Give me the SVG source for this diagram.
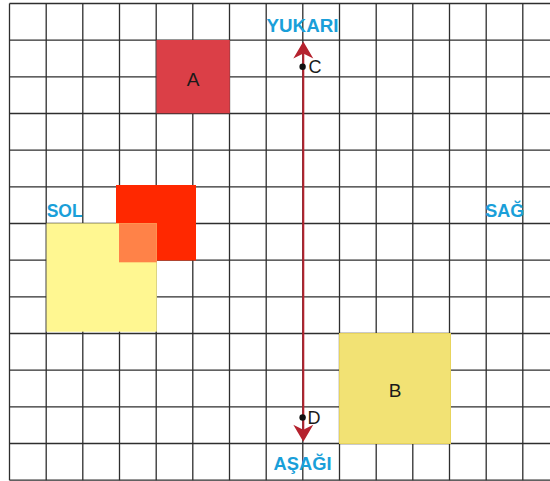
<svg xmlns="http://www.w3.org/2000/svg" width="550" height="481" viewBox="0 0 550 481">
<defs>
<style>
.grid{stroke:#2e2e2e;stroke-width:1.3;fill:none}
.dir{font-family:"Liberation Sans",Arial,sans-serif;font-weight:bold;font-size:19px;fill:#1a9fd9;text-anchor:middle}
.lbl{font-family:"Liberation Sans",Arial,sans-serif;font-size:19px;fill:#1a1a1a;text-anchor:middle}
.pt{font-family:"Liberation Sans",Arial,sans-serif;font-size:18px;fill:#1a1a1a}
.head{fill:#b5222e}
</style>
</defs>
<rect width="550" height="481" fill="#ffffff"/>
<g id="grid" class="grid">
<path d="M9.5 3.5V480.2M46.2 3.5V480.2M82.8 3.5V480.2M119.5 3.5V480.2M156.2 3.5V480.2M192.8 3.5V480.2M229.5 3.5V480.2M266.2 3.5V480.2M302.8 3.5V480.2M339.5 3.5V480.2M376.2 3.5V480.2M412.8 3.5V480.2M449.5 3.5V480.2M486.2 3.5V480.2M522.8 3.5V480.2"/>
<path d="M9.5 3.5H550M9.5 40.2H550M9.5 76.8H550M9.5 113.5H550M9.5 150.2H550M9.5 186.8H550M9.5 223.5H550M9.5 260.2H550M9.5 296.8H550M9.5 333.5H550M9.5 370.2H550M9.5 406.8H550M9.5 443.5H550M9.5 480.2H550"/>
</g>
<g id="A">
<rect x="156.5" y="40" width="73.3" height="73.3" fill="#db3f47"/>
<text class="lbl" x="193" y="86">A</text>
</g>
<g id="red">
<rect x="116" y="185" width="80" height="75.5" fill="#ff2800"/>
</g>
<g id="yellow">
<rect x="46.5" y="223.3" width="110.3" height="108.4" fill="#fff791"/>
</g>
<g id="overlap">
<rect x="119" y="223.3" width="37.8" height="39" fill="#ff8248"/>
</g>
<g id="B">
<rect x="339.5" y="333.5" width="111" height="110" fill="#f2e274" stroke="#e8d45c" stroke-width="1"/>
<text class="lbl" x="395" y="396.5">B</text>
</g>
<g id="connectors">
<line x1="303.3" y1="52" x2="303.3" y2="431" stroke="#b5222e" stroke-width="2"/>
<path class="head" d="M303.3 41.5 L313.3 58.5 L303.3 53.5 L293.3 58.5 Z"/>
<path class="head" d="M303.3 441.7 L313.3 424.7 L303.3 429.7 L293.3 424.7 Z"/>
</g>
<g id="C">
<circle cx="302.6" cy="66.7" r="3.2" fill="#111"/>
<text class="pt" x="308.5" y="73">C</text>
</g>
<g id="D">
<circle cx="302.6" cy="417.5" r="3.2" fill="#111"/>
<text class="pt" x="307.5" y="423.5">D</text>
</g>
<g id="labels">
<text class="dir" x="302.5" y="32" textLength="72" lengthAdjust="spacingAndGlyphs">YUKARI</text>
<text class="dir" x="302.5" y="469.5" textLength="58" lengthAdjust="spacingAndGlyphs">AŞAĞI</text>
<text class="dir" x="64.7" y="216.5" textLength="36" lengthAdjust="spacingAndGlyphs">SOL</text>
<text class="dir" x="504.7" y="216.5" textLength="39" lengthAdjust="spacingAndGlyphs">SAĞ</text>
</g>
</svg>
